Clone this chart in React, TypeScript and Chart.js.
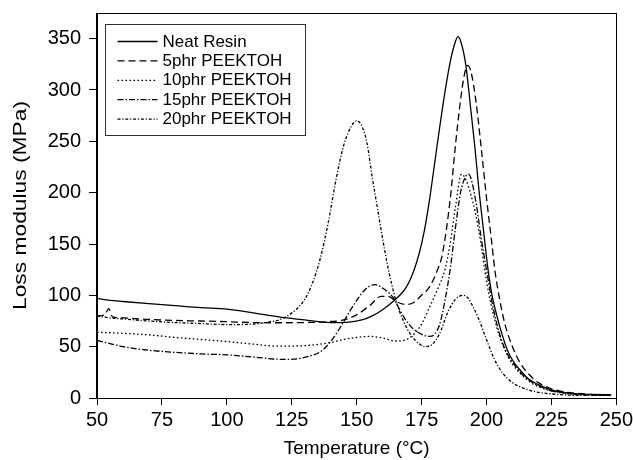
import React, { useEffect, useRef } from "react";
import { Chart, registerables } from "chart.js";

Chart.register(...registerables);

const SERIES_NAMES = ["Neat Resin", "5phr PEEKTOH", "10phr PEEKTOH", "15phr PEEKTOH", "20phr PEEKTOH"];
const X_TICKS = [50, 75, 100, 125, 150, 175, 200, 225, 250];
const Y_TICKS = [0, 50, 100, 150, 200, 250, 300, 350];
const X_TITLE = "Temperature (\u00B0C)";
const Y_TITLE = "Loss modulus (MPa)";

const NEAT_T = [50, 55, 60, 70, 80, 90, 100, 110, 120, 130, 140, 147, 152, 156, 160, 164, 168, 170, 172, 174, 176, 178, 180, 182, 184, 186, 188, 189, 190, 192, 194, 195.5, 197, 199, 200.6, 202, 204, 206, 208, 210, 213, 216, 220, 225, 230, 235, 240, 248];
const NEAT_V = [97, 95, 94, 92, 90, 88, 86.5, 83, 79, 76, 73.5, 74, 76, 80, 86, 94, 104, 112, 124, 140, 162, 192, 228, 264, 298, 327, 347, 352, 348, 325, 280, 245, 205, 160, 125, 102, 80, 62, 47, 37, 27, 19, 13, 8, 5.5, 4, 3.5, 3];

const P5_T = [50, 53, 54.5, 56, 60, 70, 80, 90, 100, 110, 120, 130, 140, 145, 150, 155, 159.5, 162, 166, 169, 172, 175, 178, 181, 183, 186, 188, 190, 191.5, 192.7, 194, 196, 198, 200, 202, 203.2, 205, 207, 210, 213, 216, 220, 225, 230, 235, 240, 248];
const P5_V = [80, 81, 87, 79, 78, 76.5, 75.5, 75, 74.3, 73.5, 73.3, 73.5, 74.5, 76, 81, 90, 99, 99, 93, 91, 93, 100, 108, 124, 140, 193, 245, 290, 315, 324, 318, 288, 243, 195, 152, 125, 97, 73, 50, 34, 24, 15, 9, 6, 4.5, 3.5, 3];

const P10_T = [50, 60, 70, 80, 90, 100, 110, 120, 130, 140, 145, 150, 155, 160, 165, 168, 172, 175, 178, 181, 184, 186, 188, 190.4, 192, 194, 196, 198, 199.3, 201, 203, 205, 208, 210, 213, 216, 220, 225, 230, 240, 248];
const P10_V = [64, 63, 61.5, 59, 57, 55, 52.5, 50.5, 51, 54, 57, 59, 60, 58.5, 55.5, 56, 62, 72, 88, 105, 125, 150, 185, 218, 213, 198, 177, 148, 125, 100, 78, 60, 42, 33, 24, 17, 11, 7, 4.5, 3, 2.5];

const P15_T = [50, 55, 60, 70, 80, 90, 100, 110, 118, 123, 128, 132, 136, 140, 144, 147, 150, 153, 157, 160, 164, 167, 170, 173, 176, 178, 180, 182, 184, 186, 188, 190, 192, 193, 194, 196, 198, 200, 202, 204, 206, 208, 210, 213, 216, 220, 225, 230, 240, 248];
const P15_V = [56, 53, 50, 46.5, 44.5, 43, 42, 40, 38, 37.6, 38.5, 41, 45, 55, 70, 83, 95, 105, 110.5, 107, 98, 84, 72, 65, 61, 60, 62, 72, 95, 125, 165, 200, 216, 218, 214, 190, 155, 125, 95, 72, 55, 43, 35, 25, 18, 12, 7, 5, 3, 3];

const P20_T = [50, 55, 60, 70, 80, 90, 100, 110, 115, 120, 124, 127, 130, 133, 136, 139, 142, 145, 148, 150, 152, 154, 156, 158, 160, 162, 165, 168, 171, 174, 176.5, 179, 182, 185, 188, 191, 193, 195, 197, 200, 203, 206, 210, 216, 220, 225, 230, 240, 248];
const P20_V = [80, 78, 77, 75, 73.5, 72.5, 71.5, 72, 73.5, 76, 81, 87, 96, 112, 136, 170, 212, 246, 265, 270, 265, 248, 215, 185, 155, 128, 96, 75, 61, 53, 50, 52, 63, 83, 96, 100, 97, 88, 77, 57, 38, 25, 15, 8, 5.5, 4, 3, 2.5, 2.5];

const SERIES_T = [NEAT_T, P5_T, P10_T, P15_T, P20_T];
const SERIES_V = [NEAT_V, P5_V, P10_V, P15_V, P20_V];

const DASHES: number[][] = [[], [7, 4], [1.6, 2.4], [6, 2, 1.5, 2], [3, 1.8, 1.2, 1.8]];
const FONT = "'Liberation Sans', Arial, Helvetica, sans-serif";

const framePlugin = {
  id: "frameAndLegend",
  afterDraw(chart: any) {
    const ctx = chart.ctx;
    const { left, top, right, bottom } = chart.chartArea;
    ctx.save();
    ctx.strokeStyle = "#000";
    ctx.lineWidth = 1;
    ctx.setLineDash([]);
    ctx.strokeRect(Math.round(left) - 0.5, Math.round(top) + 0.5, Math.round(right - left) + 1, Math.round(bottom - top));

    // y-axis title (stretched along its length like the original)
    ctx.save();
    ctx.translate(21, (top + bottom) / 2);
    ctx.rotate(-Math.PI / 2);
    ctx.scale(1.2, 1);
    ctx.fillStyle = "#000";
    ctx.font = `19px ${FONT}`;
    ctx.textAlign = "center";
    ctx.textBaseline = "middle";
    ctx.fillText(Y_TITLE, 0, 0);
    ctx.restore();

    const bx = Math.round(left) + 8.5;
    const by = Math.round(top) + 11.5;
    const bw = 200;
    const bh = 111;
    ctx.fillStyle = "#fff";
    ctx.fillRect(bx, by, bw, bh);
    ctx.strokeStyle = "#333";
    ctx.strokeRect(bx, by, bw, bh);

    chart.data.datasets.forEach((ds: any, i: number) => {
      const y = by + 17 + i * 19.4;
      ctx.strokeStyle = "#000";
      ctx.lineWidth = 1.3;
      ctx.setLineDash(ds.borderDash || []);
      ctx.beginPath();
      ctx.moveTo(bx + 12, y);
      ctx.lineTo(bx + 52, y);
      ctx.stroke();
      ctx.setLineDash([]);
      ctx.fillStyle = "#000";
      ctx.font = `17px ${FONT}`;
      ctx.textBaseline = "middle";
      ctx.textAlign = "left";
      ctx.fillText(ds.label, bx + 57, y + 0.5);
    });
    ctx.restore();
  },
};

export default function App() {
  const ref = useRef<HTMLCanvasElement | null>(null);

  useEffect(() => {
    if (!ref.current) return;
    const datasets = SERIES_NAMES.map((name, i) => ({
      label: name,
      data: SERIES_T[i].map((t, j) => ({ x: t, y: SERIES_V[i][j] })),
      borderColor: "#000",
      backgroundColor: "#000",
      borderWidth: 1.3,
      borderDash: DASHES[i],
      pointRadius: 0,
      fill: false,
      cubicInterpolationMode: "monotone" as const,
    }));

    const chart = new Chart(ref.current, {
      type: "line",
      data: { datasets },
      options: {
        animation: false,
        responsive: false,
        devicePixelRatio: 1,
        layout: { padding: { top: 13, right: 16, left: 0, bottom: 0 } },
        plugins: { legend: { display: false }, tooltip: { enabled: false } },
        scales: {
          x: {
            type: "linear",
            min: 50,
            max: 250,
            afterFit: (s: any) => { s.height = 62; },
            afterBuildTicks: (s: any) => { s.ticks = X_TICKS.map((v) => ({ value: v })); },
            grid: { drawOnChartArea: false, drawTicks: true, tickLength: 7, color: "#000", tickColor: "#000" },
            border: { display: true, color: "#000", width: 1 },
            ticks: { color: "#000", font: { family: FONT, size: 20, lineHeight: 1.5 }, padding: 0, maxRotation: 0 },
            title: { display: true, text: X_TITLE, color: "#000", font: { family: FONT, size: 19 }, padding: { top: 0, bottom: 0 } },
          },
          y: {
            type: "linear",
            min: 0,
            max: 375,
            afterFit: (s: any) => { s.width = 97; },
            afterBuildTicks: (s: any) => { s.ticks = Y_TICKS.map((v) => ({ value: v })); },
            grid: { drawOnChartArea: false, drawTicks: true, tickLength: 8, color: "#000", tickColor: "#000" },
            border: { display: true, color: "#000", width: 1 },
            ticks: { color: "#000", font: { family: FONT, size: 20, lineHeight: 0.3 }, padding: 8 },
            title: { display: false, text: Y_TITLE },
          },
        },
      },
      plugins: [framePlugin],
    });
    return () => chart.destroy();
  }, []);

  return (
    <div style={{ position: "fixed", left: 0, top: 0, width: 633, height: 460, background: "#fff" }}>
      <canvas ref={ref} width={633} height={460} style={{ display: "block" }} />
    </div>
  );
}
